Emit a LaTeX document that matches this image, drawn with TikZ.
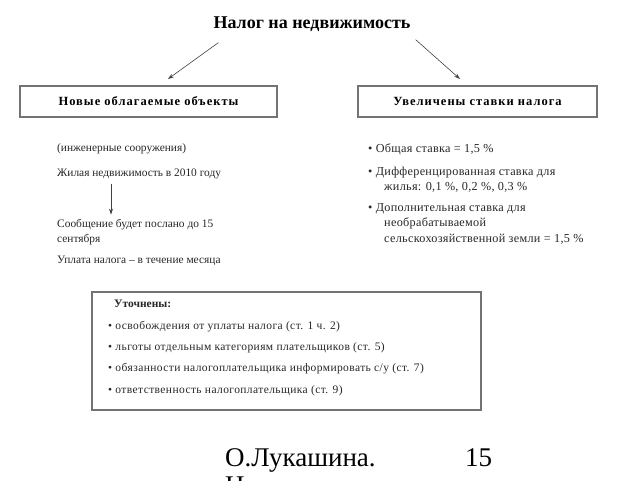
\documentclass[tikz,border=0pt]{standalone}
\usepackage{fontspec}
\setmainfont{Liberation Serif}
\newfontfamily\hdrfont[LetterSpace=8]{Liberation Serif}
\newfontfamily\ratefont[LetterSpace=2.5]{Liberation Serif}
\newfontfamily\specfont[LetterSpace=3.5]{Liberation Serif}
\usetikzlibrary{positioning,arrows.meta}

\tikzset{
	box/.style={draw=black!55, line width=1.3pt, inner sep=0pt},
	txt/.style={anchor=base west, inner sep=0pt, text=black!85, font=\fontsize{11.4}{13}\selectfont},
	ratetxt/.style={txt, font=\ratefont\fontsize{12.2}{14}\selectfont},
	spectxt/.style={txt, font=\specfont\fontsize{11.5}{13}\selectfont},
	hdr/.style={inner sep=0pt, font=\hdrfont\bfseries\fontsize{12.5}{14}\selectfont},
	arr/.style={-{Stealth[length=6pt,width=4pt]}, draw=black!75, line width=0.6pt},
	foot/.style={anchor=base west, inner sep=0pt, font=\fontsize{27}{32}\selectfont}
}

\begin{document}
\begin{tikzpicture}[x=1pt,y=-1pt]

	\useasboundingbox (0,0) rectangle (640,480);

	% title and the two headings
	\node[inner sep=2pt, font=\bfseries\fontsize{18}{20}\selectfont] (title) at (312,24) {Налог на недвижимость};
	\node[box, minimum width=257pt, minimum height=31pt] (new) at (148.5,101.5) {};
	\node[hdr] (newt) at (new.center) {Новые облагаемые объекты};
	\node[box, minimum width=239pt, minimum height=31pt] (rate) at (477.5,101.5) {};
	\node[hdr] (ratet) at (rate.center) {Увеличены ставки налога};

	\coordinate (tl) at (168,79);
	\coordinate (tr) at (460,79);
	\draw[arr] ([xshift=7pt,yshift=-9pt]title.south west) -- (tl);
	\draw[arr] ([xshift=3pt,yshift=-6pt]title.south east) -- (tr);

	% left column
	\node[txt] (eng) at (57,151) {(инженерные сооружения)};
	\node[txt] (live) at (57,176) {Жилая недвижимость в 2010 году};
	\node[txt] (msg) at (57,227) {Сообщение будет послано до 15};
	\node[txt] (msg2) at (57,242) {сентября};
	\node[txt] (pay) at (57,263) {Уплата налога -- в течение месяца};
	\draw[arr] ([xshift=54pt,yshift=-5pt]live.south west) -- ([xshift=54pt,yshift=4pt]msg.north west);

	% right column
	\node[ratetxt] (r1) at (368,152) {• Общая ставка = 1,5 \%};
	\node[ratetxt] (r2) at (368,175) {• Дифференцированная ставка для};
	\node[ratetxt] (r2b) at (384,190) {жилья: 0,1 \%, 0,2 \%, 0,3 \%};
	\node[ratetxt] (r3) at (368,211) {• Дополнительная ставка для};
	\node[ratetxt] (r3b) at (384,226) {необрабатываемой};
	\node[ratetxt] (r3c) at (384,242) {сельскохозяйственной земли = 1,5 \%};

	% bottom frame
	\node[box, minimum width=389pt, minimum height=118pt] (spec) at (286.5,351) {};
	\node[spectxt, font=\bfseries\fontsize{11.5}{13}\selectfont] (specT) at (114,307) {Уточнены:};
	\node[spectxt] (s1) at (108,329) {• освобождения от уплаты налога (ст. 1 ч. 2)};
	\node[spectxt] (s2) at (108,350) {• льготы отдельным категориям плательщиков (ст. 5)};
	\node[spectxt] (s3) at (108,371) {• обязанности налогоплательщика информировать с/у (ст. 7)};
	\node[spectxt] (s4) at (108,393) {• ответственность налогоплательщика (ст. 9)};

	% footer
	\node[foot] (author) at (225,466) {О.Лукашина.};
	\node[foot] (author2) at (225,494) {Новости};
	\node[foot] (page) at (465,466) {15};

\end{tikzpicture}
\end{document}
